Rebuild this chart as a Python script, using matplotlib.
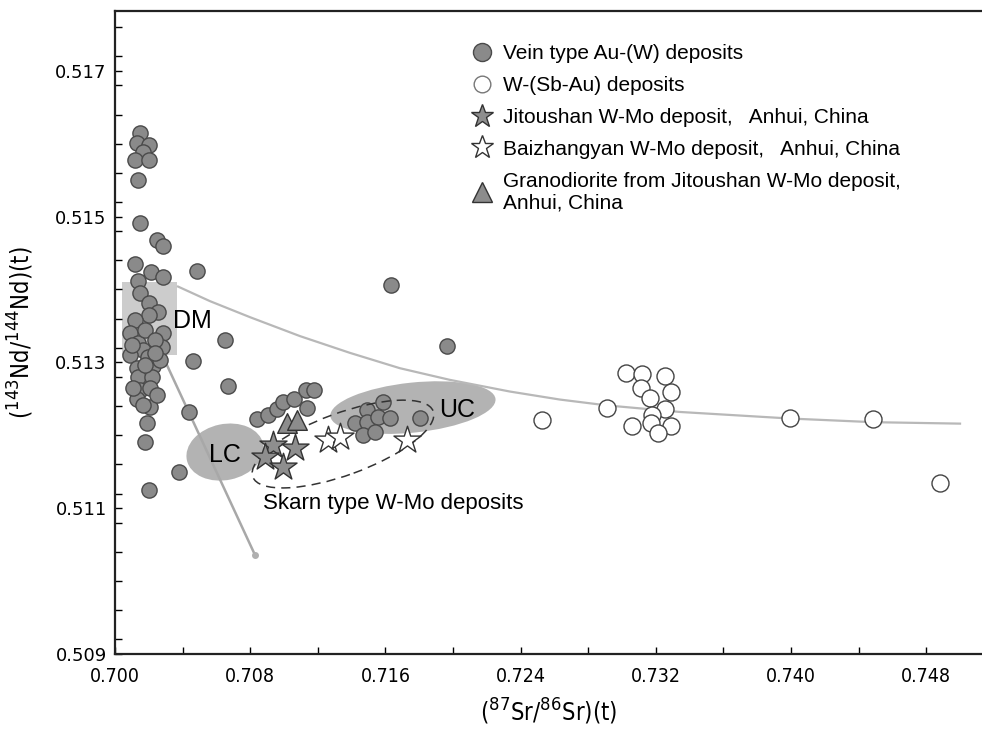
import matplotlib
matplotlib.use("Agg")
import matplotlib.pyplot as plt
import matplotlib.transforms as transforms
from matplotlib.patches import Ellipse, Rectangle
from matplotlib.ticker import MultipleLocator
from matplotlib.lines import Line2D

# Vein type Au-(W) deposits
vein_sr = [0.70148, 0.70130, 0.70201, 0.70166, 0.70118, 0.70201, 0.70136, 0.70148,
           0.70249, 0.70284, 0.70118, 0.70213, 0.70284, 0.70485, 0.70136, 0.70148,
           0.70201, 0.70254, 0.70201, 0.70118, 0.70089, 0.70284, 0.70136, 0.70166,
           0.70278, 0.70089, 0.70130, 0.70225, 0.70136, 0.70219, 0.70148, 0.70207,
           0.70130, 0.70207, 0.70189, 0.70178, 0.70201, 0.70379, 0.70438, 0.70669,
           0.70462, 0.70651, 0.71633, 0.71964,
           0.70178, 0.70237, 0.70195, 0.70266, 0.70101, 0.70178, 0.70249, 0.70166,
           0.70107, 0.70237,
           0.70840, 0.70905, 0.70959, 0.70994, 0.71059, 0.71130, 0.71178, 0.71136,
           0.71586, 0.71491, 0.71420, 0.71491, 0.71556, 0.71627, 0.71467, 0.71538, 0.71805]
vein_nd = [0.51615, 0.51601, 0.51598, 0.51589, 0.51578, 0.51578, 0.51550, 0.51491,
           0.51468, 0.51459, 0.51435, 0.51424, 0.51417, 0.51426, 0.51412, 0.51395,
           0.51382, 0.51369, 0.51365, 0.51358, 0.51340, 0.51340, 0.51327, 0.51317,
           0.51321, 0.51310, 0.51292, 0.51295, 0.51280, 0.51280, 0.51262, 0.51265,
           0.51250, 0.51239, 0.51217, 0.51191, 0.51125, 0.51150, 0.51232, 0.51268,
           0.51302, 0.51331, 0.51406, 0.51323,
           0.51345, 0.51331, 0.51308, 0.51303, 0.51324, 0.51297, 0.51255, 0.51242,
           0.51265, 0.51313,
           0.51222, 0.51228, 0.51236, 0.51246, 0.51250, 0.51262, 0.51262, 0.51238,
           0.51246, 0.51235, 0.51217, 0.51218, 0.51225, 0.51224, 0.51201, 0.51205, 0.51224]

# W-(Sb-Au) deposits
wsb_sr = [0.72527, 0.72911, 0.73024, 0.73118, 0.73254, 0.73112, 0.73290, 0.73166, 0.73254,
          0.73178, 0.73059, 0.73172, 0.73290, 0.73213, 0.73994, 0.74485, 0.74882]
wsb_nd = [0.51221, 0.51238, 0.51286, 0.51284, 0.51281, 0.51265, 0.51260, 0.51251, 0.51236,
          0.51228, 0.51213, 0.51217, 0.51213, 0.51203, 0.51224, 0.51222, 0.51135]

# Jitoushan W-Mo deposit
jit_sr = [0.70935, 0.71065, 0.70888, 0.70994]
jit_nd = [0.51187, 0.51183, 0.51170, 0.51157]

# Baizhangyan W-Mo deposit
bai_sr = [0.71260, 0.71331, 0.71728]
bai_nd = [0.51194, 0.51198, 0.51194]

# granodiorite, Jitoushan
gra_sr = [0.71018, 0.71077]
gra_nd = [0.51217, 0.51221]

# mixing curve DM -> crust
mix_sr = [0.70373, 0.70562, 0.70799, 0.71095, 0.71391, 0.71686, 0.71982, 0.72337,
          0.72633, 0.72911, 0.73343, 0.73994, 0.74485, 0.75000]
mix_nd = [0.51404, 0.51384, 0.51362, 0.51336, 0.51313, 0.51292, 0.51276, 0.51260,
          0.51249, 0.51241, 0.51232, 0.51223, 0.51218, 0.51216]

# second mixing line from DM downwards
low_sr = [0.70266, 0.70828]
low_nd = [0.51317, 0.51036]

xticks = [0.700, 0.708, 0.716, 0.724, 0.732, 0.740, 0.748]
yticks = [0.509, 0.511, 0.513, 0.515, 0.517]

labels = ["Vein type Au-(W) deposits",
          "W-(Sb-Au) deposits",
          "Jitoushan W-Mo deposit,   Anhui, China",
          "Baizhangyan W-Mo deposit,   Anhui, China",
          "Granodiorite from Jitoushan W-Mo deposit,\nAnhui, China"]

sans = ["Liberation Sans", "DejaVu Sans"]

fig = plt.figure(figsize=(9.82, 7.33), dpi=100)
ax = fig.add_axes([115 / 982, 79 / 733, 867 / 982, 643 / 733])
ax.set_xlim(0.700, 0.7513)
ax.set_ylim(0.509, 0.51782)


def ellipse(cx, cy, w, h, ang, **kw):
    # size in pixels, centre in data units
    tr = fig.dpi_scale_trans + transforms.ScaledTranslation(cx, cy, ax.transData)
    e = Ellipse((0, 0), w / 100, h / 100, angle=ang, transform=tr, **kw)
    ax.add_patch(e)


# fields
ax.add_patch(Rectangle((0.70041, 0.51310), 0.00326, 0.00100, facecolor="#c4c4c4",
                       edgecolor="none", alpha=0.85, zorder=1))
ellipse(0.70651, 0.51177, 78, 56, 12, facecolor="#b3b3b3", edgecolor="none", zorder=1)
ellipse(0.71763, 0.51238, 166, 50, 6, facecolor="#b3b3b3", edgecolor="none", zorder=1)
ellipse(0.71349, 0.51188, 192, 62, 20, facecolor="none", edgecolor="#333333",
        linestyle=(0, (6, 4)), linewidth=1.1, zorder=4)

ax.plot(mix_sr, mix_nd, color="#b8b8b8", lw=1.6, zorder=2, solid_joinstyle="round")
ax.plot(low_sr, low_nd, color="#a8a8a8", lw=1.8, zorder=2)
ax.plot(low_sr[-1], low_nd[-1], "o", color="#b0b0b0", ms=4, zorder=2)

ax.scatter(vein_sr, vein_nd, s=120, c="#8a8a8a", edgecolors="#4a4a4a", linewidths=1, zorder=3)
ax.scatter(wsb_sr, wsb_nd, s=150, c="white", edgecolors="#444444", linewidths=1, zorder=3)
ax.scatter(gra_sr, gra_nd, s=200, marker="^", c="#8c8c8c", edgecolors="#333333",
           linewidths=1, zorder=5)
ax.scatter(jit_sr, jit_nd, s=420, marker="*", c="#8e8e8e", edgecolors="#333333",
           linewidths=1, zorder=5)
ax.scatter(bai_sr, bai_nd, s=420, marker="*", c="white", edgecolors="#333333",
           linewidths=1, zorder=5)

ax.text(0.70456, 0.51357, "DM", fontsize=18, family=sans, ha="center", va="center", zorder=6)
ax.text(0.70651, 0.51173, "LC", fontsize=18, family=sans, ha="center", va="center", zorder=6)
ax.text(0.72024, 0.51235, "UC", fontsize=18, family=sans, ha="center", va="center", zorder=6)
ax.text(0.70876, 0.51107, "Skarn type W-Mo deposits", fontsize=16, family=sans,
        ha="left", va="center", zorder=6)

# legend
handles = [
    Line2D([], [], ls="none", marker="o", ms=13, mfc="#8a8a8a", mec="#4a4a4a"),
    Line2D([], [], ls="none", marker="o", ms=12, mfc="white", mec="#777777"),
    Line2D([], [], ls="none", marker="*", ms=17, mfc="#8e8e8e", mec="#333333"),
    Line2D([], [], ls="none", marker="*", ms=17, mfc="white", mec="#333333"),
    Line2D([], [], ls="none", marker="^", ms=15, mfc="#8c8c8c", mec="#333333"),
]
ax.legend(handles, labels, loc="upper left", bbox_to_anchor=(472 / 982, 1 - 44 / 733),
          bbox_transform=fig.transFigure, frameon=False, borderpad=0, borderaxespad=0,
          handlelength=1.0, handletextpad=0.5, labelspacing=0.62,
          prop={"family": sans, "size": 15})

# axes
ax.spines["right"].set_visible(False)
for s in ["left", "bottom", "top"]:
    ax.spines[s].set_linewidth(1.6)
    ax.spines[s].set_color("#222222")
ax.set_xticks(xticks)
ax.set_yticks(yticks)
ax.set_xticklabels([f"{v:.3f}" for v in xticks], family="DejaVu Sans",
                   stretch="condensed", fontsize=14)
ax.set_yticklabels([f"{v:.3f}" for v in yticks], family="DejaVu Sans", fontsize=13)
ax.xaxis.set_minor_locator(MultipleLocator(0.004))
ax.yaxis.set_minor_locator(MultipleLocator(0.0004))
ax.tick_params(which="both", direction="in", length=5, width=1, top=False, right=False)
ax.tick_params(axis="x", pad=9)
ax.tick_params(axis="y", pad=6)

ax.set_xlabel(r"($^{87}$Sr/$^{86}$Sr)(t)", family="DejaVu Sans", stretch="condensed",
              fontsize=17, labelpad=8)
ax.set_ylabel(r"($^{143}$Nd/$^{144}$Nd)(t)", family="DejaVu Sans", stretch="condensed",
              fontsize=17, labelpad=14)

fig.savefig("out.png", dpi=100)
plt.close()
